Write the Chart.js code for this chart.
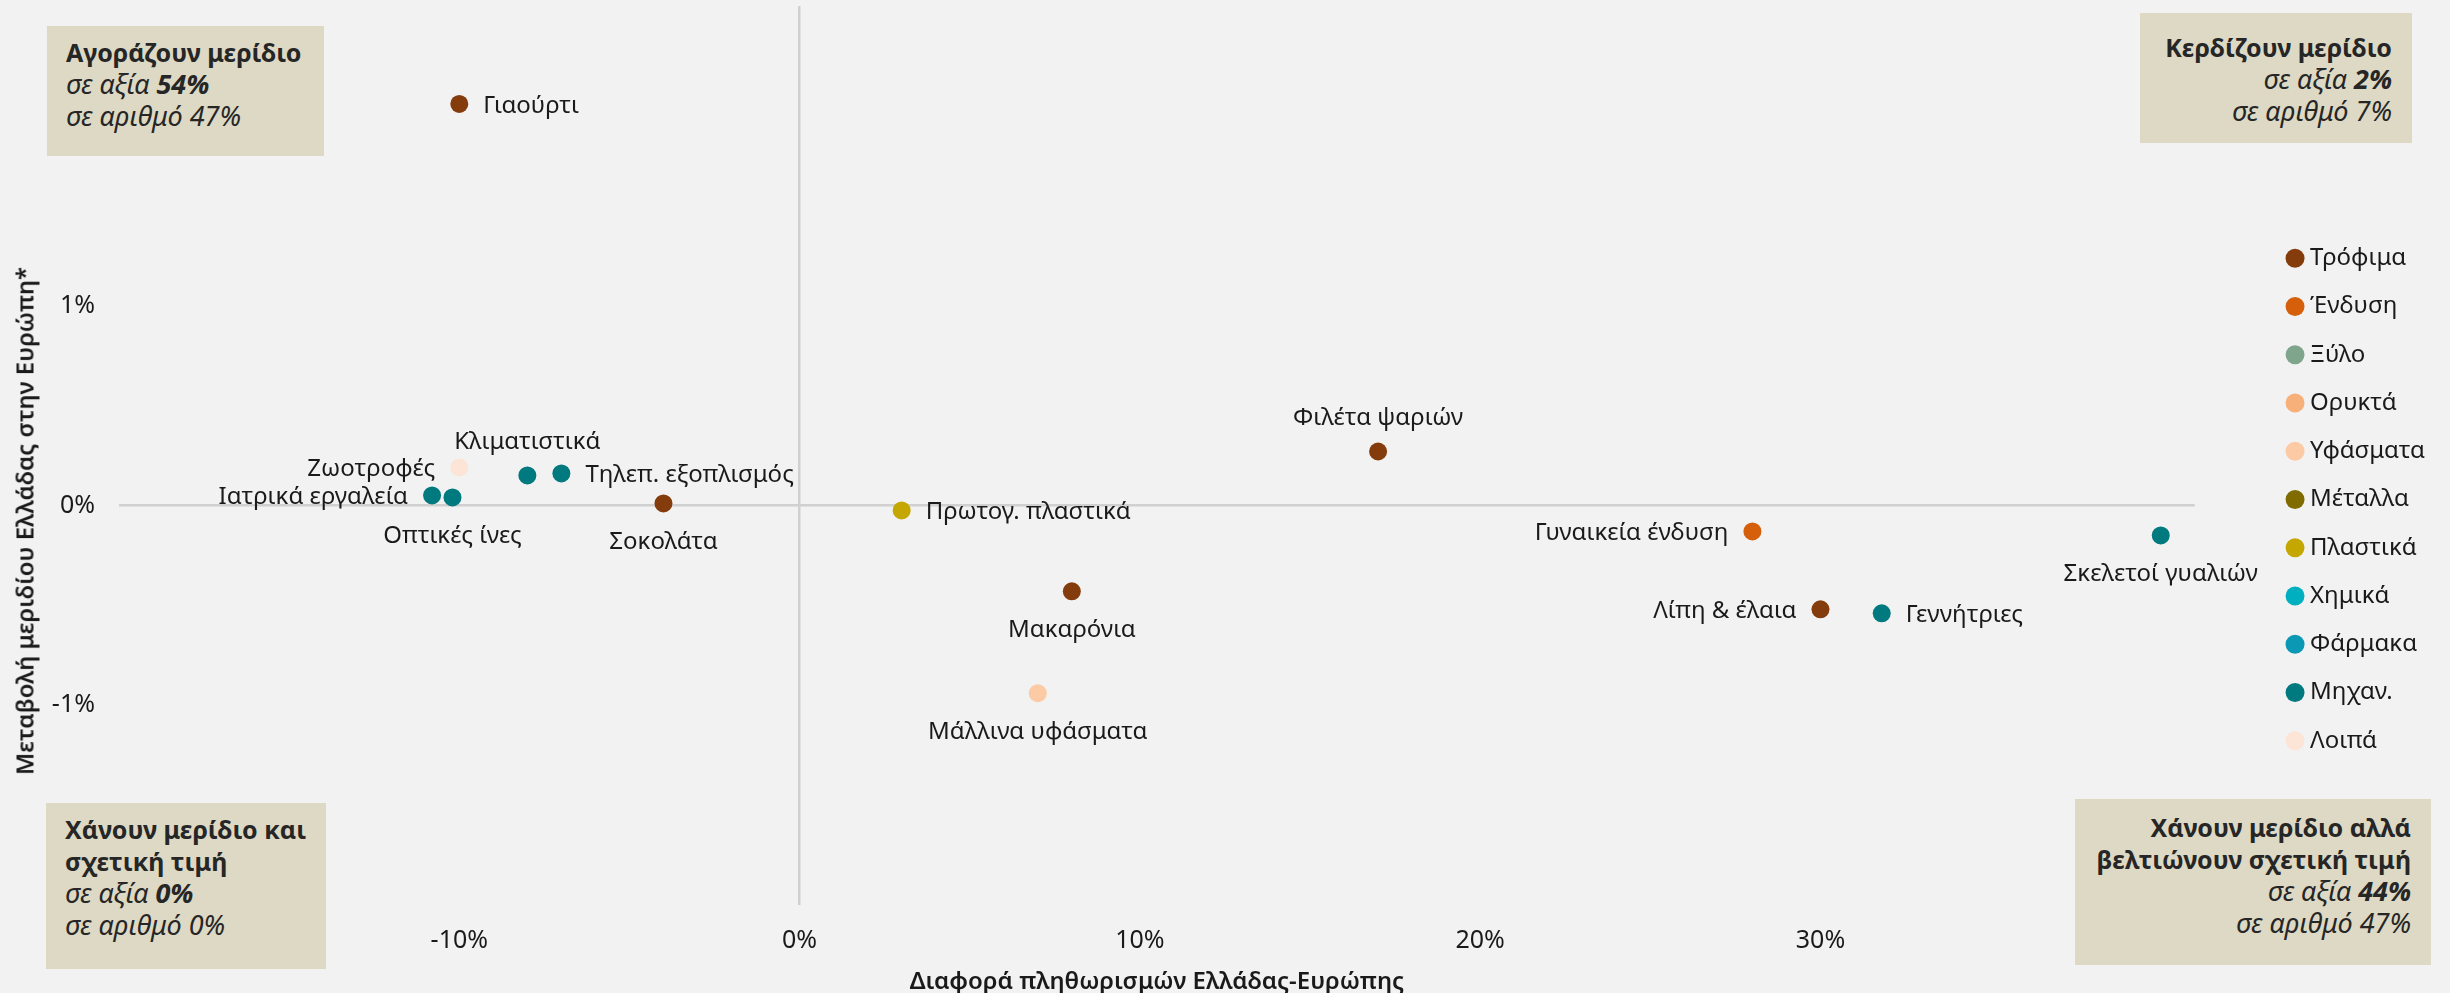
<!DOCTYPE html>
<html lang="el">
<head>
<meta charset="utf-8">
<title>Μερίδια εξαγωγών και πληθωρισμός</title>
<script src="https://cdn.jsdelivr.net/npm/chart.js@4.4.1/dist/chart.umd.min.js"></script>
<style>
  html, body { margin: 0; padding: 0; background: #f2f2f2; }
  #wrap { position: relative; width: 2450px; height: 993px; font-family: 'Noto Sans', sans-serif; color: #262626; }
  #chart { position: absolute; left: 0; top: 0; }
  .note { position: absolute; background: #ddd9c4; box-sizing: border-box; font-size: 25px; line-height: 32px; }
  .note .t { font-weight: 700; display: block; }
  .note .s { font-style: italic; font-size: 27px; display: block; }
  .note .s b { font-weight: 700; }
  .right { text-align: right; }
  #ytitle { position: absolute; left: 24px; top: 521px; transform: translate(-50%, -50%) rotate(-90deg);
            white-space: nowrap; font-size: 24px; font-weight: 600; color: #1a1a1a; }
</style>
</head>
<body>
<div id="wrap">
  <canvas id="chart" width="2450" height="993"></canvas>
  <div id="ytitle">Μεταβολή μεριδίου Ελλάδας στην Ευρώπη*</div>
  <div class="note" style="left:47px;top:26px;width:277px;height:130px;padding:10px 0 0 19px;">
    <span class="t">Αγοράζουν μερίδιο</span>
    <span class="s">σε αξία <b>54%</b></span>
    <span class="s">σε αριθμό 47%</span>
  </div>
  <div class="note right" style="left:2140px;top:13px;width:272px;height:130px;padding:18px 20px 0 0;">
    <span class="t">Κερδίζουν μερίδιο</span>
    <span class="s">σε αξία <b>2%</b></span>
    <span class="s">σε αριθμό 7%</span>
  </div>
  <div class="note" style="left:46px;top:803px;width:280px;height:166px;padding:10px 0 0 19px;">
    <span class="t">Χάνουν μερίδιο και<br>σχετική τιμή</span>
    <span class="s">σε αξία <b>0%</b></span>
    <span class="s">σε αριθμό 0%</span>
  </div>
  <div class="note right" style="left:2075px;top:799px;width:356px;height:166px;padding:12px 20px 0 0;">
    <span class="t">Χάνουν μερίδιο αλλά<br>βελτιώνουν σχετική τιμή</span>
    <span class="s">σε αξία <b>44%</b></span>
    <span class="s">σε αριθμό 47%</span>
  </div>
</div>
<script>
// product groups, in legend order
var categories = ['Τρόφιμα', 'Ένδυση', 'Ξύλο', 'Ορυκτά', 'Υφάσματα', 'Μέταλλα',
                  'Πλαστικά', 'Χημικά', 'Φάρμακα', 'Μηχαν.', 'Λοιπά'];
var categoryColors = ['#843c0c', '#d55f0a', '#7fa58c', '#f8b07a', '#fccaa4', '#7f6b00',
                      '#c4a700', '#00afc0', '#0a98b4', '#00797f', '#fce4d6'];

// individual products
var products = ['Γιαούρτι', 'Ζωοτροφές', 'Κλιματιστικά', 'Τηλεπ. εξοπλισμός', 'Ιατρικά εργαλεία',
                'Οπτικές ίνες', 'Σοκολάτα', 'Πρωτογ. πλαστικά', 'Φιλέτα ψαριών', 'Μακαρόνια',
                'Μάλλινα υφάσματα', 'Γυναικεία ένδυση', 'Λίπη & έλαια', 'Γεννήτριες', 'Σκελετοί γυαλιών'];
var productGroup = ['Τρόφιμα', 'Λοιπά', 'Μηχαν.', 'Μηχαν.', 'Μηχαν.',
                    'Μηχαν.', 'Τρόφιμα', 'Πλαστικά', 'Τρόφιμα', 'Τρόφιμα',
                    'Υφάσματα', 'Ένδυση', 'Τρόφιμα', 'Μηχαν.', 'Μηχαν.'];
// inflation gap Greece - Europe (%)
var inflationGap = [-10, -10, -8, -7, -10.8, -10.2, -4, 3, 17, 8, 7, 28, 30, 31.8, 40];
// change of Greek share in Europe (%)
var shareChange = [2.01, 0.19, 0.15, 0.16, 0.05, 0.04, 0.01, -0.025, 0.27, -0.43, -0.94, -0.13, -0.52, -0.54, -0.15];
// where each name sits relative to its dot
var labelSide = ['right', 'left', 'top', 'right', 'left', 'bottom', 'bottom', 'right', 'top', 'bottom',
                 'bottom', 'left', 'left', 'right', 'bottom'];

var FONT = 'Noto Sans';
var INK = '#1a1a1a';
Chart.defaults.font.family = FONT;

var datasets = categories.map(function (cat, c) {
  var pts = [], names = [], sides = [];
  products.forEach(function (p, i) {
    if (productGroup[i] !== cat) return;
    pts.push({ x: inflationGap[i], y: shareChange[i] });
    names.push(p);
    sides.push(labelSide[i]);
  });
  return {
    label: cat,
    data: pts,
    names: names,
    sides: sides,
    backgroundColor: categoryColors[c],
    borderWidth: 0,
    pointRadius: 9,
    pointHoverRadius: 9
  };
});

// writes product names next to the dots
var pointNames = {
  id: 'pointNames',
  afterDatasetsDraw: function (chart) {
    var ctx = chart.ctx;
    ctx.save();
    ctx.font = '24px "' + FONT + '"';
    ctx.fillStyle = INK;
    ctx.textBaseline = 'middle';
    chart.data.datasets.forEach(function (ds, d) {
      chart.getDatasetMeta(d).data.forEach(function (pt, i) {
        var side = ds.sides[i], x = pt.x, y = pt.y + 2;
        if (side === 'right') { ctx.textAlign = 'left'; x += 24; }
        else if (side === 'left') { ctx.textAlign = 'right'; x -= 24; }
        else if (side === 'top') { ctx.textAlign = 'center'; y -= 35; }
        else { ctx.textAlign = 'center'; y += 37; }
        ctx.fillText(ds.names[i], x, y);
      });
    });
    ctx.restore();
  }
};

function zeroOnly(c) { return c.tick.value === 0 ? '#d0d0d0' : 'rgba(0,0,0,0)'; }
function pctInner(v, i, ticks) { return (i === 0 || i === ticks.length - 1) ? '' : v + '%'; }

new Chart(document.getElementById('chart'), {
  type: 'scatter',
  data: { datasets: datasets },
  plugins: [pointNames],
  options: {
    responsive: false,
    animation: false,
    devicePixelRatio: 1,
    events: [],
    layout: { padding: { top: 6, right: 15, bottom: 0, left: 0 }, autoPadding: false },
    plugins: {
      tooltip: { enabled: false },
      legend: {
        position: 'right',
        align: 'center',
        labels: {
          usePointStyle: true,
          pointStyle: 'circle',
          boxWidth: 6,
          boxHeight: 13.4,
          padding: 24.25,
          color: INK,
          font: { size: 24 }
        }
      }
    },
    scales: {
      x: {
        type: 'linear',
        min: -20,
        max: 41,
        grid: { color: zeroOnly, lineWidth: 2.5, drawTicks: false },
        border: { display: false },
        ticks: { stepSize: 10, includeBounds: false, padding: 21, color: INK, font: { size: 25 }, callback: pctInner },
        title: { display: true, text: 'Διαφορά πληθωρισμών Ελλάδας-Ευρώπης', color: INK,
                 font: { size: 24, weight: '600' }, padding: { top: 0, bottom: -4 } },
        afterFit: function (s) { s.height = 88; s.paddingLeft = 0; s.paddingRight = 0; }
      },
      y: {
        type: 'linear',
        min: -2,
        max: 2.5,
        grid: { color: zeroOnly, lineWidth: 2.5, drawTicks: false },
        border: { display: false },
        ticks: { stepSize: 1, includeBounds: false, padding: 24, color: INK, font: { size: 25 }, callback: pctInner },
        afterFit: function (s) { s.width = 119; s.paddingTop = 0; s.paddingBottom = 0; }
      },
      // empty strip between the plot and the legend
      gap: {
        type: 'linear',
        position: 'right',
        grid: { display: false },
        border: { display: false },
        ticks: { display: false },
        afterFit: function (s) { s.width = 73; }
      }
    }
  }
});
</script>
</body>
</html>
